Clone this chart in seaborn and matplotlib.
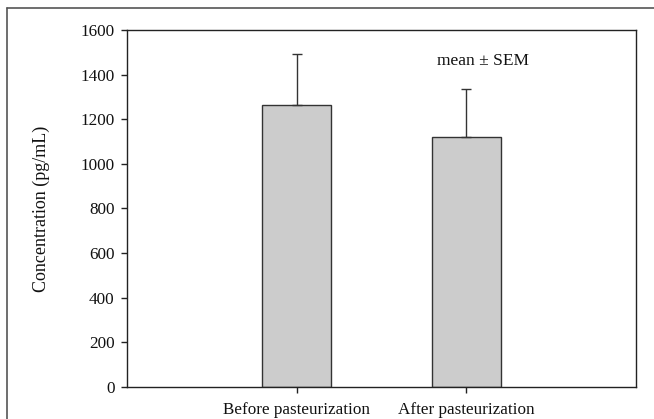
import matplotlib
matplotlib.use("Agg")
import matplotlib.pyplot as plt
import seaborn as sns
import numpy as np
import pandas as pd
from matplotlib.lines import Line2D

categories = ["Before pasteurization", "After pasteurization"]
means = [1262, 1122]
sem = [229, 215]
y_ticks = [0, 200, 400, 600, 800, 1000, 1200, 1400, 1600]

sns.set_theme(style="white")
plt.rcParams['font.family'] = ['Liberation Serif', 'DejaVu Serif']

fig = plt.figure(figsize=(6.54, 4.19), dpi=100)
ax = fig.add_axes([127/654, 1 - 387/419, (636-127)/654, (387-30)/419])

df = pd.DataFrame({"cat": categories, "val": means})
sns.barplot(data=df, x="cat", y="val", color="#cccccc", edgecolor="#333333",
            linewidth=1.0, width=0.41, errorbar=None, saturation=1, ax=ax)

xpos = np.arange(len(categories))
ax.errorbar(xpos, means, yerr=[np.zeros(len(sem)), sem], fmt="none",
            ecolor="#333333", elinewidth=1.0, capsize=3.3, capthick=1.0, zorder=1)

ax.set_xlim(-1, 2)
ax.set_ylim(0, 1600)
ax.set_yticks(y_ticks)
ax.set_yticklabels([str(t) for t in y_ticks])
ax.set_xticks(xpos)
ax.set_xticklabels(categories)
ax.set_xlabel("")
ax.set_ylabel("Concentration (pg/mL)", fontsize=13, color="#111111", labelpad=22)

ax.tick_params(axis="both", which="both", direction="out", length=4, width=1,
               color="#222222", labelsize=12.3, labelcolor="#111111",
               left=True, bottom=True)
ax.tick_params(axis="y", pad=5)
ax.tick_params(axis="x", pad=7)
for s in ax.spines.values():
    s.set_visible(True)
    s.set_color("#222222")
    s.set_linewidth(1.0)

ax.text(1.1, 1460, "mean \u00b1 SEM", ha="center", va="center", fontsize=12.5,
        color="#111111")

# figure frame (top and left edges visible)
fig.add_artist(Line2D([7/654, 1.0], [1 - 8/419, 1 - 8/419], transform=fig.transFigure,
                      color="#555555", linewidth=1.2))
fig.add_artist(Line2D([7/654, 7/654], [0.0, 1 - 8/419], transform=fig.transFigure,
                      color="#555555", linewidth=1.2))

fig.savefig("out.png", dpi=100, facecolor="white")
